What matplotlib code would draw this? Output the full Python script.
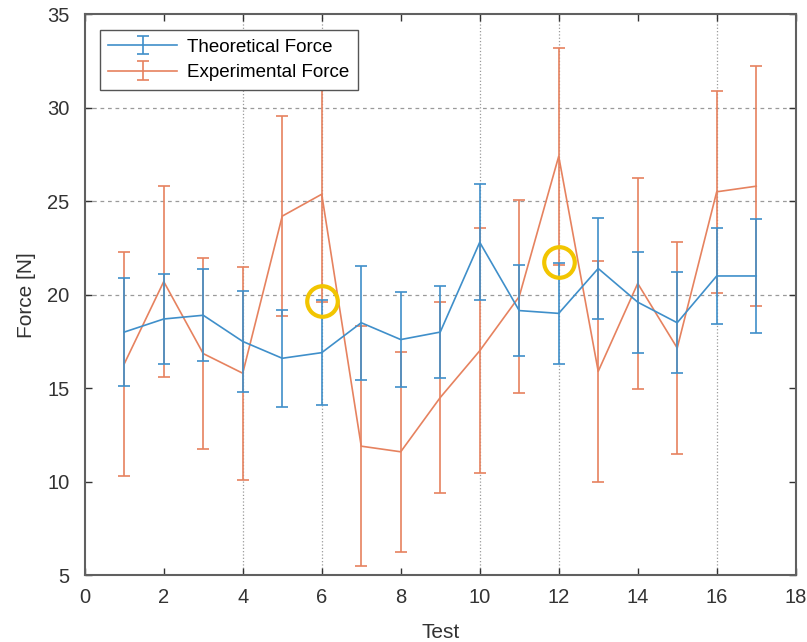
import matplotlib.pyplot as plt

plt.rcParams['font.family'] = ['Liberation Sans', 'DejaVu Sans']

tests = list(range(1, 18))

theo_force = [18.0, 18.7, 18.9, 17.5, 16.6, 16.9, 18.5, 17.6, 18.0,
              22.8, 19.15, 19.0, 21.4, 19.6, 18.5, 21.0, 21.0]
theo_err = [2.9, 2.4, 2.45, 2.7, 2.6, 2.8, 3.05, 2.55, 2.45,
            3.1, 2.45, 2.7, 2.7, 2.7, 2.7, 2.55, 3.05]

exp_force = [16.3, 20.7, 16.85, 15.8, 24.2, 25.37, 11.9, 11.6, 14.5,
             17.0, 19.9, 27.4, 15.9, 20.6, 17.15, 25.5, 25.8]
exp_err = [6.0, 5.1, 5.1, 5.7, 5.35, 5.75, 6.4, 5.35, 5.1,
           6.55, 5.15, 5.8, 5.9, 5.65, 5.65, 5.4, 6.4]

# circled points (experimental lower bound meets theoretical upper bound)
circle_x = [6, 12]
circle_y = [19.65, 21.75]

grid_x = [4, 6, 10, 12, 16]
grid_y = [20, 25, 30]

blue = '#3f8fca'
orange = '#e6825f'

fig = plt.figure(figsize=(8.07, 6.42), dpi=100)
ax = fig.add_axes([0.105, 0.104, 0.881, 0.874])

for gx in grid_x:
    ax.axvline(gx, color='#9a9a9a', linestyle=':', linewidth=0.9, zorder=0)
for gy in grid_y:
    ax.axhline(gy, color='#9a9a9a', linestyle='--', linewidth=0.9, dashes=(3, 3), zorder=0)

ax.errorbar(tests, theo_force, yerr=theo_err, color=blue, linewidth=1.2,
            elinewidth=1.2, capsize=4.5, capthick=1.2, label='Theoretical Force', zorder=3)
ax.errorbar(tests, exp_force, yerr=exp_err, color=orange, linewidth=1.2,
            elinewidth=1.2, capsize=4.5, capthick=1.2, label='Experimental Force', zorder=2)

ax.plot(circle_x, circle_y, linestyle='none', marker='o', markersize=22,
        markerfacecolor='none', markeredgecolor='#f2c500', markeredgewidth=3, zorder=4)

ax.set_xlim(0, 18)
ax.set_ylim(5, 35)
ax.set_xticks(range(0, 19, 2))
ax.set_yticks(range(5, 36, 5))
ax.tick_params(direction='in', top=True, right=True, labelsize=14.5, colors='#333333',
               length=5, width=1)
ax.tick_params(axis='x', pad=9)
ax.tick_params(axis='y', pad=11)
for s in ax.spines.values():
    s.set_color('#606060')
    s.set_linewidth(1.5)

ax.set_xlabel('Test', fontsize=15, color='#333333', labelpad=12)
ax.set_ylabel('Force [N]', fontsize=15, color='#333333', labelpad=8)

leg = ax.legend(loc='upper left', fontsize=13.5, fancybox=False, framealpha=1,
                edgecolor='#555555', borderpad=0.45, labelspacing=0.45,
                handlelength=3.7, handletextpad=0.5, borderaxespad=0,
                bbox_to_anchor=(0.021, 0.9715))
leg.set_zorder(5)

fig.savefig('out.png', dpi=100)
